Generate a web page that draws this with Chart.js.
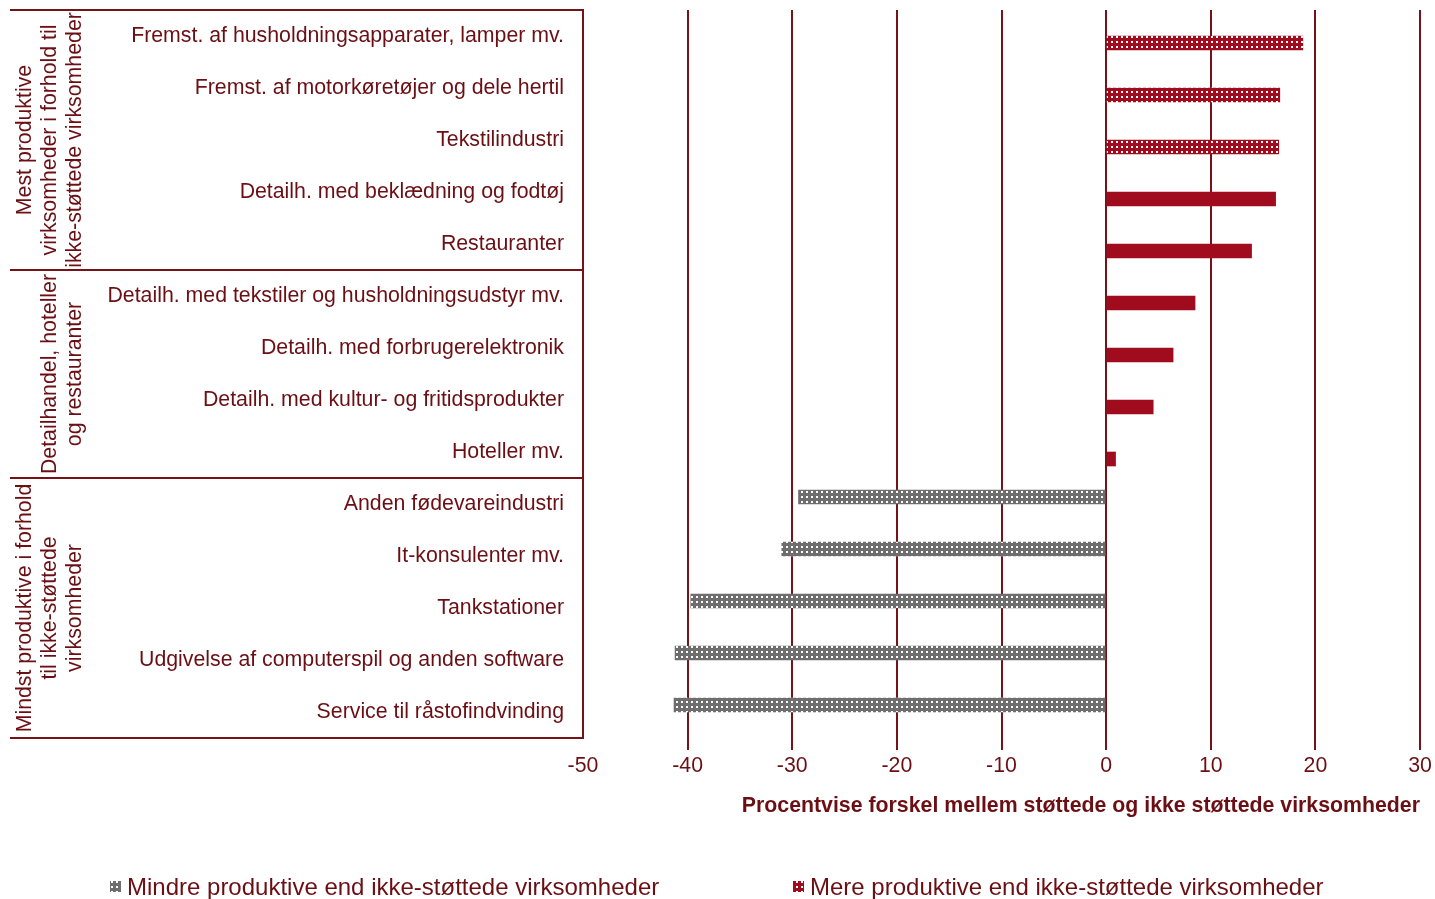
<!DOCTYPE html>
<html>
<head>
<meta charset="utf-8">
<script src="https://cdn.jsdelivr.net/npm/chart.js@4/dist/chart.umd.min.js"></script>
<style>
  html,body{margin:0;padding:0;background:#fff;}
  #wrap{width:1435px;height:899px;}
</style>
</head>
<body>
<div id="wrap"><canvas id="c"></canvas></div>
<script>
// data
const kategorier = [
  "Fremst. af husholdningsapparater, lamper mv.",
  "Fremst. af motorkøretøjer og dele hertil",
  "Tekstilindustri",
  "Detailh. med beklædning og fodtøj",
  "Restauranter",
  "Detailh. med tekstiler og husholdningsudstyr mv.",
  "Detailh. med forbrugerelektronik",
  "Detailh. med kultur- og fritidsprodukter",
  "Hoteller mv.",
  "Anden fødevareindustri",
  "It-konsulenter mv.",
  "Tankstationer",
  "Udgivelse af computerspil og anden software",
  "Service til råstofindvinding"
];
const mere   = [18.8, 16.6, 16.5, 16.2, 13.9, 8.5, 6.4, 4.5, 0.9, null, null, null, null, null];
const mindre = [null, null, null, null, null, null, null, null, null, -29.4, -31.0, -39.7, -41.2, -41.3];
const skraveret = [true, true, true, false, false, false, false, false, false, true, true, true, true, true];
const grupper = [
  {tekst: ["Mest produktive", "virksomheder i forhold til", "ikke-støttede virksomheder"], fra: 0, til: 4},
  {tekst: ["Detailhandel, hoteller", "og restauranter"], fra: 5, til: 8},
  {tekst: ["Mindst produktive i forhold", "til ikke-støttede", "virksomheder"], fra: 9, til: 13}
];
const xTicks = [-50, -40, -30, -20, -10, 0, 10, 20, 30];
const serieNavne = ["Mindre produktive end ikke-støttede virksomheder", "Mere produktive end ikke-støttede virksomheder"];
const xTitel = "Procentvise forskel mellem støttede og ikke støttede virksomheder";

const rod = '#a00c1e', graa = '#6e6e6e', tekst = '#6b0f14', linje = '#741419';
const FONT = '"Liberation Sans", Arial, sans-serif';
const FS = 21.3;

function moenster(farve){
  const c = document.createElement('canvas');
  c.width = 5; c.height = 5;
  const g = c.getContext('2d');
  g.fillStyle = farve; g.fillRect(0,0,5,5);
  g.fillStyle = '#ffffff';
  g.fillRect(1,1,2,2);
  return g.createPattern(c, 'repeat');
}
const rodM = moenster(rod), graaM = moenster(graa);

const tabelPlugin = {
  id: 'tabel',
  afterDraw(chart){
    const ctx = chart.ctx, y = chart.scales.y, area = chart.chartArea;
    const h = (y.getPixelForValue(1) - y.getPixelForValue(0));
    ctx.save();
    ctx.strokeStyle = linje; ctx.lineWidth = 2;
    const grænser = [0, 5, 9, 14];
    grænser.forEach(i => {
      const py = Math.round(y.getPixelForValue(i) - h/2);
      ctx.beginPath(); ctx.moveTo(10, py); ctx.lineTo(area.left, py); ctx.stroke();
    });
    // gruppe-tekster
    ctx.fillStyle = tekst;
    ctx.font = FS + 'px ' + FONT;
    ctx.textAlign = 'center'; ctx.textBaseline = 'middle';
    grupper.forEach(gr => {
      const midt = (y.getPixelForValue(gr.fra) + y.getPixelForValue(gr.til)) / 2;
      const n = gr.tekst.length;
      gr.tekst.forEach((t, i) => {
        const px = 75 - (n - 1 - i) * 25;
        ctx.save();
        ctx.translate(px, midt);
        ctx.rotate(-Math.PI/2);
        ctx.fillText(t, 0, 0);
        ctx.restore();
      });
    });
    // legend
    const ly = 887;
    ctx.textAlign = 'left';
    ctx.font = '24px ' + FONT;
    [[110, graaM, serieNavne[0]], [793, rodM, serieNavne[1]]].forEach(([lx, p, t]) => {
      ctx.fillStyle = p; ctx.fillRect(lx, ly - 6, 11, 11);
      ctx.fillStyle = tekst; ctx.fillText(t, lx + 17, ly + 1);
    });
    ctx.restore();
  }
};

new Chart(document.getElementById('c'), {
  type: 'bar',
  data: {
    labels: kategorier,
    datasets: [
      {label: serieNavne[0], data: mindre, barThickness: 14,
       backgroundColor: graaM},
      {label: serieNavne[1], data: mere, barThickness: 14,
       backgroundColor: mere.map((v, i) => skraveret[i] ? rodM : rod)}
    ]
  },
  options: {
    indexAxis: 'y',
    responsive: true,
    maintainAspectRatio: false,
    animation: false,
    layout: {padding: {top: 10, right: 15, bottom: 79, left: 0}},
    plugins: {legend: {display: false}, tooltip: {enabled: false}},
    datasets: {bar: {categoryPercentage: 0.5}},
    scales: {
      x: {
        type: 'linear', min: -50, max: 30,
        afterBuildTicks: s => { s.ticks = xTicks.map(v => ({value: v})); },
        afterFit: s => { s.height = 82; },
        grid: {
          color: c => c.tick && c.tick.value === -50 ? 'rgba(0,0,0,0)' : linje,
          tickColor: c => c.tick && c.tick.value === -50 ? 'rgba(0,0,0,0)' : linje,
          lineWidth: 2, tickLength: 12, drawTicks: true
        },
        border: {display: false},
        ticks: {color: tekst, font: {family: FONT, size: FS}, padding: 3, maxRotation: 0},
        title: {display: true, text: xTitel, align: 'end', color: tekst,
                font: {family: FONT, size: FS, weight: 'bold'}, padding: {top: 0, bottom: 1}}
      },
      y: {
        afterFit: s => { s.width = 583; s.paddingTop = 0; s.paddingBottom = 0; },
        grid: {display: false, drawTicks: false},
        border: {display: true, color: linje, width: 2},
        ticks: {color: tekst, font: {family: FONT, size: FS}, padding: 19, autoSkip: false}
      }
    }
  },
  plugins: [tabelPlugin]
});
</script>
</body>
</html>
